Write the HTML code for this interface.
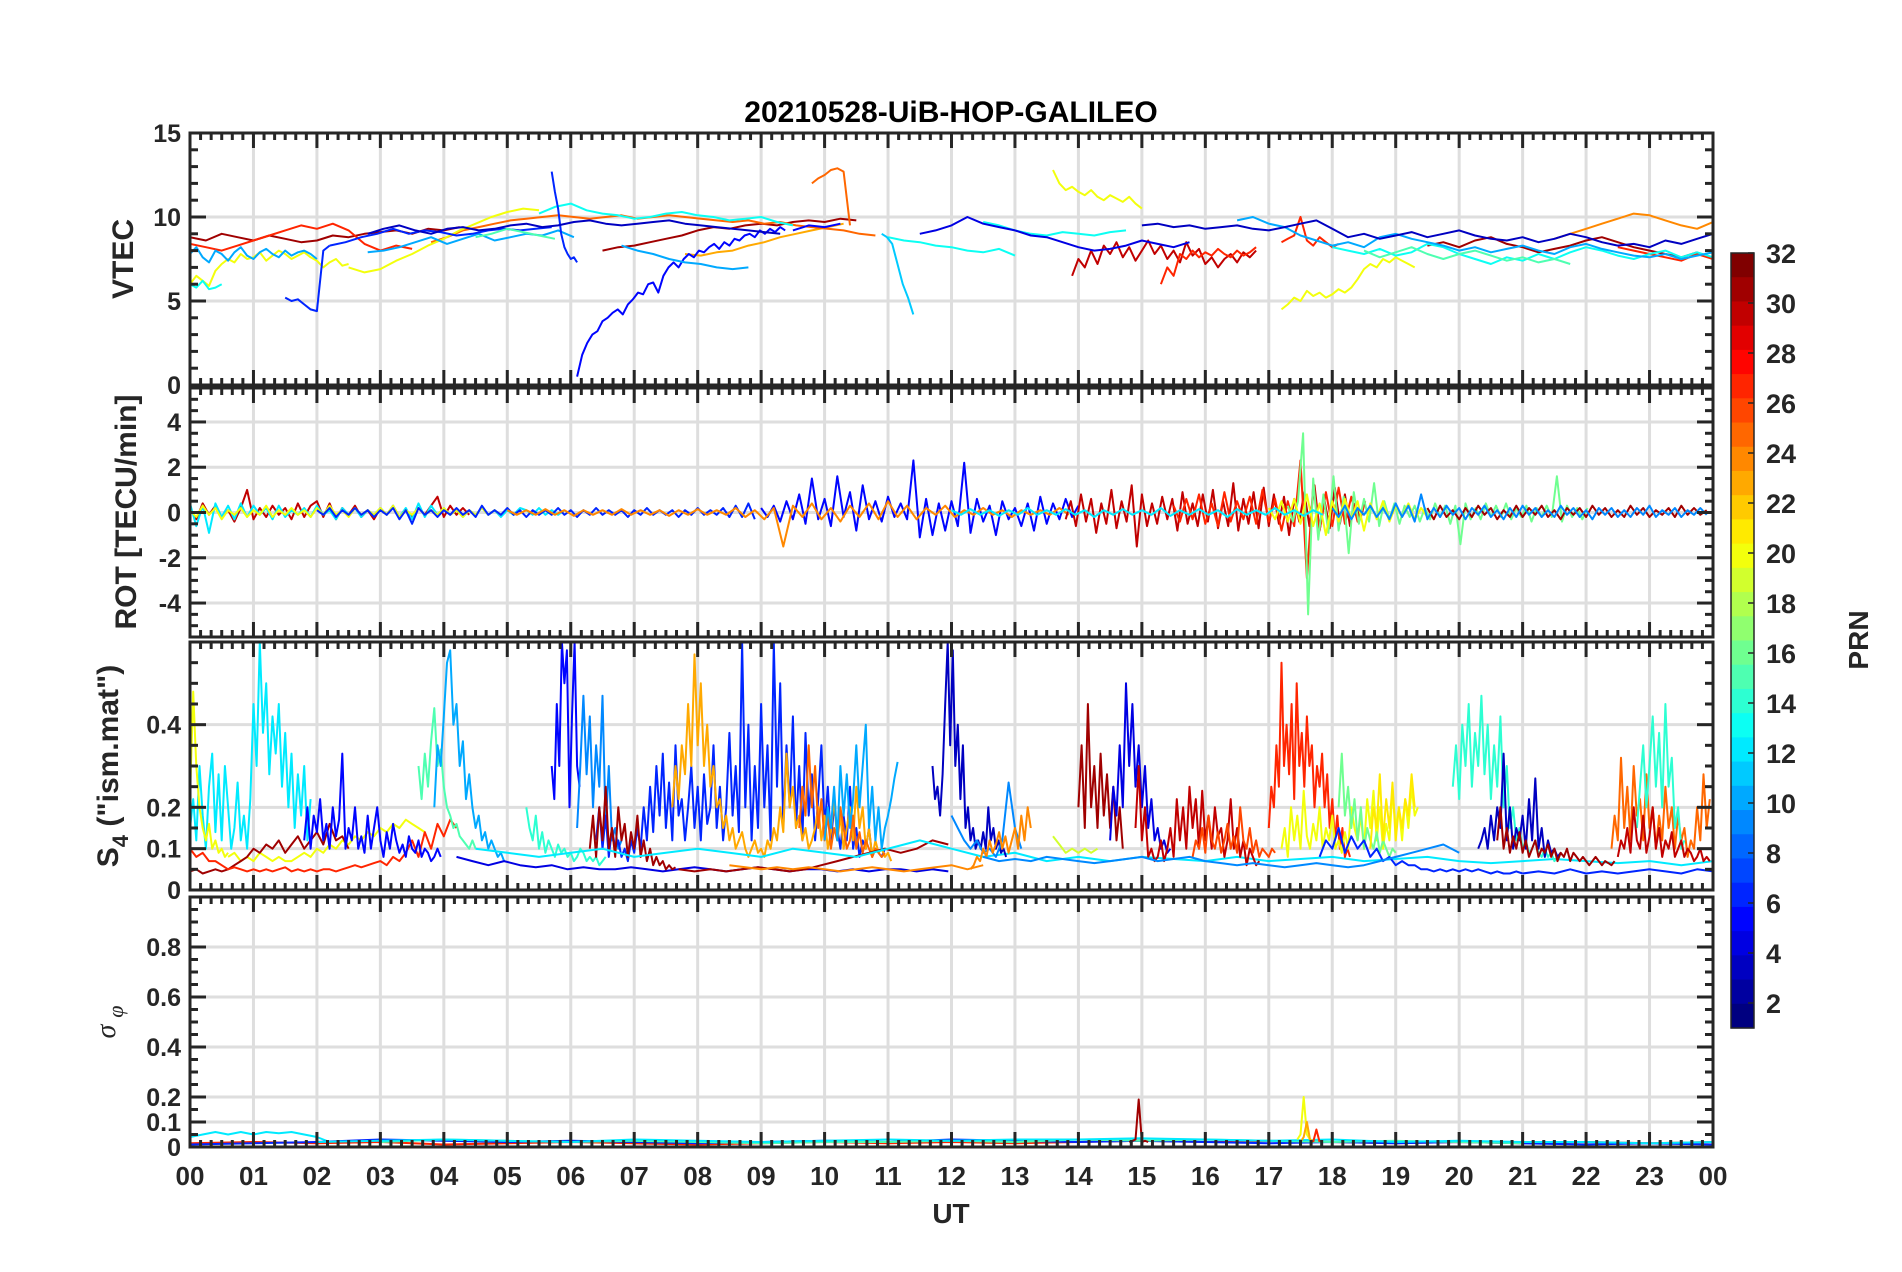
<!DOCTYPE html>
<html><head><meta charset="utf-8"><title>20210528-UiB-HOP-GALILEO</title>
<style>html,body{margin:0;padding:0;background:#fff}svg{display:block;font-family:"Liberation Sans",Arial,sans-serif}</style>
</head><body>
<svg id="chart" xmlns="http://www.w3.org/2000/svg" width="1902" height="1272" viewBox="0 0 1902 1272">
<rect x="0" y="0" width="1902" height="1272" fill="#fff"/>
<text x="951" y="122" text-anchor="middle" font-size="30" font-weight="bold" fill="#000">20210528-UiB-HOP-GALILEO</text>
<text transform="translate(133,259) rotate(-90)" text-anchor="middle" font-size="30" font-weight="bold" fill="#262626">VTEC</text>
<text transform="translate(136,512) rotate(-90)" text-anchor="middle" font-size="30" font-weight="bold" fill="#262626">ROT [TECU/min]</text>
<text transform="translate(118,766) rotate(-90)" text-anchor="middle" font-size="30" font-weight="bold" fill="#262626">S<tspan font-size="22" dy="10">4</tspan><tspan dy="-10"> ("ism.mat")</tspan></text>
<text transform="translate(115,1022) rotate(-90)" text-anchor="middle" font-size="28" font-style="italic" fill="#262626" font-family="'Liberation Serif',serif">σ <tspan font-size="22" dy="8">φ</tspan></text>
<text x="951" y="1223" text-anchor="middle" font-size="28" font-weight="bold" fill="#262626">UT</text>
<text transform="translate(1868,640) rotate(-90)" text-anchor="middle" font-size="28" font-weight="bold" fill="#262626">PRN</text>
<g id="layer"></g>
</svg>
<script>
// ---------- axis / tick data ----------
const hourLabels = ["00","01","02","03","04","05","06","07","08","09","10","11","12","13","14","15","16","17","18","19","20","21","22","23","00"];
const vtecTicks = [0,5,10,15];
const rotTicks = [-4,-2,0,2,4];
const s4Ticks = [0,0.1,0.2,0.4];
const s4TickLabels = ["0","0.1","0.2","0.4"];
const sigTicks = [0,0.1,0.2,0.4,0.6,0.8];
const sigTickLabels = ["0","0.1","0.2","0.4","0.6","0.8"];
const cbTicks = [2,4,6,8,10,12,14,16,18,20,22,24,26,28,30,32];

// ---------- VTEC data ----------
const vtecPrn = [31,31,30,31,27,27,27,27,24,23,25,25,20,20,20,20,13,13,13,13,13,10,10,10,11,6,6,6,5,5,4,3,3,10,15,15];
const vtecStart = [0,6.5,13.9,19.5,0,15.3,17.2,22.5,21.5,7.8,3.8,9.8,0,2.5,13.6,17.2,0,5.5,11,12.5,18,0,2.8,16.5,10.9,1.5,2.2,5.7,6.1,9.5,11.5,15,2.8,6.8,4.5,18.5];
const vtecStep = [0.25,0.25,0.1,0.25,0.25,0.1,0.1,0.25,0.25,0.25,0.25,0.1,0.1,0.25,0.1,0.1,0.1,0.25,0.25,0.25,0.25,0.1,0.25,0.25,0.083,0.1,0.25,0.05,0.08,0.25,0.25,0.25,0.25,0.25,0.25,0.25];
const vtecVals = [
[8.8,8.6,9.0,8.8,8.6,8.9,8.7,8.5,8.6,8.9,8.8,9.0,9.1,9.2,9.0,9.3,9.2,9.4],
[8.0,8.2,8.3,8.5,8.7,8.9,9.2,9.4,9.3,9.5,9.6,9.5,9.7,9.8,9.7,9.9,9.8],
[6.5,7.5,7.0,8.0,7.2,8.3,7.8,8.5,7.6,8.2,7.4,8.0,8.6,7.8,8.3,7.5,8.0,7.3,8.5,7.7,8.1,7.2,7.6,7.0,7.5,7.8,7.3,7.9,7.6,8.0],
[8.3,8.5,8.2,8.6,8.8,8.4,8.2,7.9,8.1,8.3,8.6,8.8,8.5,8.2,8.0,7.8,7.6,7.9],
[8.4,8.2,8.0,8.3,8.6,8.9,9.2,9.5,9.3,9.6,9.2,8.4,8.0,8.3,8.1],
[6.0,7.0,6.5,7.8,7.5,8.0,7.6,7.9,7.7,8.1,7.8,7.6,8.0,7.7,7.9,8.2],
[8.5,8.7,8.9,10.0,8.6,8.3,8.8,8.5,8.2,8.4],
[8.2,8.0,7.8,7.6,7.4,7.8,7.5],
[8.7,9.0,9.3,9.6,9.9,10.2,10.1,9.8,9.5,9.3,9.7],
[7.8,7.7,7.9,8.0,8.3,8.5,8.8,9.0,9.2,9.4,9.6],
[8.5,8.8,9.2,9.4,9.6,9.8,9.9,10.0,10.1,10.0,9.9,10.0,10.1,9.9,10.0,10.1,10.0,9.9,9.8,9.7,9.8,9.6,9.7,9.5,9.4,9.3,9.2,9.0,8.9],
[12.0,12.3,12.5,12.8,12.9,12.7,9.5],
[6.0,6.5,6.2,5.9,6.8,7.2,7.5,7.3,7.8,7.5,7.6,7.9,7.4,7.7,8.0,7.8,7.5,7.7,7.9,7.6,7.4,7.0,7.3,7.5,7.1,7.2],
[7.0,6.7,6.9,7.4,7.8,8.3,8.7,9.2,9.6,10.0,10.3,10.5,10.4],
[12.8,12.0,11.6,11.8,11.5,11.3,11.6,11.2,11.0,11.3,11.1,10.9,11.2,10.8,10.5],
[4.5,4.8,5.2,5.0,5.6,5.3,5.5,5.2,5.4,5.7,5.5,5.8,6.3,6.9,7.2,7.0,7.5,7.3,7.6,7.4,7.2,7.0],
[6.0,5.8,6.2,5.7,5.8,6.0],
[10.2,10.6,10.8,10.4,10.2,10.1,9.9,10.0,10.2,10.3,10.1,10.0,9.8,9.9,10.0,9.7,9.5],
[8.8,8.6,8.5,8.3,8.2,8.0,7.9,8.1,7.7],
[9.7,9.5,9.2,9.0,8.9,9.1,9.0,8.9,9.1,9.2],
[8.2,8.0,7.8,8.1,7.7,7.9,8.4,8.2,7.8,7.5,7.2,7.6,7.4,7.8,7.5,7.9,8.2,8.0,7.7,7.5,7.8,8.0,7.6,7.9,7.6],
[7.8,8.2,7.6,7.3,8.0,7.8,7.4,7.9,8.2,7.7,7.5,7.9,8.1,7.8,7.6,8.0,7.7,7.9,8.0,7.8,7.5],
[7.9,8.0,8.2,8.5,8.8,8.4,8.7,9.0,8.6,8.8,9.0,8.9,9.2,8.8],
[9.8,10.0,9.6,9.4,8.9,8.6,8.3,8.5,8.2,8.8,9.0,8.7,8.5,8.3,8.0,8.2,7.9,8.1,8.3,8.0,7.8,8.2,8.4,8.1,7.9,7.7,7.6,7.8,7.5,7.7,7.9],
[9.0,8.8,8.4,7.2,6.0,5.2,4.2],
[5.2,5.0,5.1,4.8,4.5,4.4,8.0,8.3],
[8.3,8.5,8.8,9.0,9.3,9.0,9.2,9.1,8.9,9.0,9.2,9.3,9.2,9.3,9.4],
[12.7,11.5,10.5,9.0,8.2,7.8,7.5,7.6,7.3],
[0.5,1.8,2.5,3.0,3.2,3.8,4.0,4.3,4.5,4.2,4.8,5.1,5.5,5.4,6.0,6.1,5.5,6.5,7.0,7.3,7.0,7.5,7.8,7.6,8.0,7.9,8.2,8.4,8.1,8.5,8.3,8.7,8.6,8.9,9.0,8.8,9.2,9.0,9.3,9.1,9.4,9.2],
[9.2,9.5,9.4,9.6],
[9.0,9.2,9.5,10.0,9.6,9.4,9.2,8.9,8.8,8.5,8.2,8.0,8.1,8.3,8.6,8.4,8.2,8.5],
[9.5,9.6,9.4,9.5,9.3,9.4,9.5,9.3,9.2,9.4,9.6,9.8,9.3,8.8,9.0,8.7,8.9,9.1,8.8,9.0,9.2,8.9,8.7,8.6,8.8,8.5,8.7,9.0,8.8,8.5,8.3,8.4,8.2,8.6,8.4,8.7,9.0],
[9.0,9.3,9.5,9.2,9.0,9.3,9.4,9.2,9.3,9.5,9.6,9.4,9.5,9.7,9.8,9.6,9.5,9.6,9.7,9.8,9.6,9.5,9.4,9.3,9.2,9.1,9.0],
[8.3,8.0,7.8,7.5,7.3,7.2,7.0,6.9,7.0],
[8.8,9.0,9.3,9.1,8.9,8.7],
[8.0,7.6,7.9,8.2,7.8,7.5,7.8,8.0,7.7,7.4,7.6,7.3,7.5,7.2]
];

// ---------- ROT data ----------
const rotPrn = [30,12,20,6,5,24,30,27,16,20,31,9,12];
const rotStart = [0,0,0,2,9,5,13.8,15.5,17.3,17,19.5,18,12];
const rotStep = [0.1,0.1,0.1,0.1,0.1,0.15,0.08,0.1,0.08,0.1,0.1,0.1,0.15];
const rotVals = [
[0.2,-0.3,0.4,-0.1,0.3,-0.2,0.1,-0.4,0.2,1.0,-0.3,0.2,-0.2,0.3,-0.1,0.2,-0.3,0.4,-0.2,0.3,0.5,-0.2,0.4,-0.3,0.2,-0.1,0.3,-0.2,0.1,-0.3,0.2,-0.1,0.3,-0.2,0.1,-0.2,0.2,-0.1,0.3,0.7,-0.2,0.3,-0.1,0.2,-0.1],
[0.4,-0.6,0.3,-0.9,0.4,-0.2,0.3,-0.3,0.4,-0.2,0.3,-0.1,0.2,-0.3,0.3,-0.2,0.1,-0.1,0.2,-0.2,0.3,-0.1,0.1,-0.3,0.2,-0.1,0.2,-0.2,0.1,-0.1,0.2,-0.1,0.3,-0.2,0.2,-0.3,0.4,-0.2,0.3,-0.1,0.2,-0.1,0.1,-0.2,0.1,-0.1,0.2,-0.1,0.1,-0.2,0.1,-0.1,0.2,0.1,-0.1,0.2,-0.1,0.1,-0.1,0.1],
[0.1,-0.2,0.3,-0.1,0.2,-0.3,0.1,-0.1,0.2,-0.2,0.1,-0.1,0.3,-0.2,0.1,-0.1,0.2,-0.1,0.1,-0.2,0.2,-0.1,0.3,-0.1,0.1,-0.2,0.2,-0.1,0.1,-0.1,0.2,-0.1,0.3,-0.2,0.1,-0.1,0.2,-0.1,0.1,-0.1,0.2,-0.1,0.1,-0.2,0.1,-0.1,0.2,-0.1,0.1,-0.1],
[0.1,-0.1,0.2,-0.2,0.1,-0.1,0.2,-0.1,0.1,-0.2,0.1,-0.1,0.2,-0.3,0.1,-0.5,0.2,-0.1,0.1,-0.2,0.1,-0.1,0.2,-0.1,0.1,-0.2,0.3,-0.1,0.1,-0.1,0.2,-0.1,0.1,-0.2,0.1,-0.1,0.1,-0.1,0.2,-0.1,0.1,-0.2,0.1,-0.1,0.2,-0.1,0.1,-0.1,0.1,-0.2,0.1,-0.1,0.2,-0.1,0.1,-0.1,0.1,-0.2,0.1,-0.1,0.2,-0.1,0.1,-0.1,0.2,-0.2,0.3,-0.2,0.4,-0.3],
[0.2,-0.2,0.3,-0.4,0.5,-0.3,0.8,-0.5,1.5,-0.3,0.6,-0.6,1.6,-0.2,0.9,-0.8,1.2,-0.3,0.5,-0.4,0.7,-0.2,0.4,-0.3,2.3,-1.1,0.6,-1.0,0.4,-0.8,0.5,-0.6,2.2,-0.9,0.6,-0.4,0.3,-1.0,0.5,-0.3,0.2,-0.6,0.4,-0.8,0.7,-0.5,0.4,-0.3,0.6,-0.2,0.3],
[0.1,-0.1,0.1,-0.1,0.15,-0.1,0.1,-0.15,0.1,-0.1,0.1,-0.1,0.15,-0.1,0.1,-0.1,0.1,-0.15,0.1,-0.1,0.15,-0.1,0.1,-0.1,0.2,-0.2,0.1,-0.3,0.2,-1.5,0.3,-0.2,0.4,-0.3,0.2,-0.4,0.3,-0.2,0.4,-0.3,0.5,-0.2,0.3,-0.3,0.2,-0.1,0.3,-0.2,0.1,-0.1,0.2,-0.1,0.1,-0.2,0.1,-0.1,0.1,-0.1,0.2,-0.1],
[-0.3,0.5,-0.6,0.8,-0.4,0.6,-0.9,0.4,-0.5,1.0,-0.7,0.5,-0.4,1.2,-1.5,0.8,-0.6,0.4,-0.5,0.7,-0.3,0.6,-0.8,0.9,-0.5,0.4,-0.6,0.8,-0.4,1.0,-0.7,0.5,-0.6,1.3,-0.8,0.6,-0.5,0.9,-0.7,1.1,-0.6,0.8,-0.5,0.7,-1.0,0.6,-0.4,0.9,-0.6,1.2,-0.8,0.5,-0.7,1.1,-0.5,0.8,-0.6,0.4,-0.3,0.5],
[0.3,-0.4,0.6,-0.3,0.8,-0.5,0.4,-0.6,0.9,-0.4,0.5,-0.3,0.7,-0.5,1.0,-0.4,0.6,-0.8,0.5,-0.6,2.3,-2.9,1.2,-0.8,0.9,-0.6,1.1,-0.5,0.7,-0.4,0.3],
[0.3,-0.4,0.5,3.5,-4.5,1.5,-1.2,0.8,-0.9,1.6,-0.8,0.7,-1.8,0.9,-0.5,0.6,-0.4,1.3,-0.6,0.5,-0.3,0.4,-0.5,0.3,-0.2,0.3,-0.4,0.2,-0.3,0.4,-0.2,0.3,-0.5,0.3,-1.4,0.4,-0.3,0.2,-0.3,0.4,-0.2,0.3,-0.2,0.4,-0.3,0.2,-0.2,0.3,-0.4,0.2,-0.2,0.3,-0.2,1.6,-0.4,0.3,-0.2,0.2,-0.3,0.2],
[0.2,-0.3,0.5,-0.4,0.6,-0.5,0.8,-0.6,0.4,-1.0,0.5,-0.4,0.6,-0.3,0.5,-0.8,0.4,-0.3,0.5,-0.4,0.3,-0.2,0.4,-0.3,0.2,-0.2],
[0.2,-0.3,0.3,-0.2,0.1,-0.3,0.2,-0.2,0.3,-0.1,0.2,-0.3,0.1,-0.2,0.3,-0.2,0.2,-0.1,0.3,-0.2,0.1,-0.3,0.2,-0.1,0.2,-0.2,0.3,-0.1,0.2,-0.2,0.1,-0.2,0.3,-0.1,0.2,-0.2,0.1,-0.1,0.2,-0.2,0.3,-0.1,0.2,-0.1,0.1],
[0.2,-0.2,0.3,-0.3,0.2,-0.1,0.3,-0.2,0.2,-0.3,0.4,-0.2,0.3,-0.4,0.8,-0.3,0.2,-0.2,0.3,-0.1,0.2,-0.3,0.2,-0.1,0.3,-0.2,0.1,-0.3,0.2,-0.2,0.3,-0.1,0.2,-0.2,0.1,-0.2,0.3,-0.1,0.2,-0.2,0.1,-0.3,0.2,-0.1,0.2,-0.2,0.1,-0.2,0.2,-0.1,0.3,-0.2,0.1,-0.1,0.2,-0.2,0.1,-0.1,0.2,-0.1],
[0.1,-0.1,0.15,-0.1,0.1,-0.15,0.1,-0.1,0.2,-0.1,0.1,-0.1,0.15,-0.1,0.1,-0.2,0.1,-0.1,0.15,-0.1,0.1,-0.1,0.2,-0.15,0.1,-0.1,0.15,-0.1,0.1,-0.2,0.15,-0.1,0.1,-0.1,0.2,-0.1,0.1,-0.15,0.1,-0.1]
];

// ---------- S4 data ----------
const s4Prn = [12,20,20,31,27,5,15,10,14,4,5,9,6,23,25,31,31,10,12,24,3,9,24,19,31,4,30,26,27,20,16,21,6,6,14,3,31,25,14,30,9];
const s4Start = [0,0,0.6,0,0,1.8,3.6,3.85,5.3,4.2,5.7,6.1,6.4,7.6,9.6,6.3,7.7,10,4.5,8.5,11.7,12,12.3,13.6,14,14.5,14.9,15.8,17,17.2,18.1,18.6,17.8,21,19.9,20.3,20.6,22.4,22.8,22.5,12.5];
const s4Step = [0.05,0.05,0.1,0.1,0.1,0.05,0.05,0.05,0.05,0.25,0.04,0.05,0.05,0.05,0.05,0.05,0.25,0.05,0.5,0.25,0.04,0.1,0.05,0.1,0.05,0.05,0.05,0.05,0.04,0.05,0.05,0.05,0.1,0.25,0.05,0.05,0.05,0.05,0.05,0.05,0.25];
const s4Vals = [
[0.15,0.22,0.12,0.3,0.18,0.1,0.25,0.33,0.14,0.28,0.12,0.3,0.2,0.1,0.15,0.26,0.12,0.18,0.1,0.22,0.45,0.3,0.6,0.38,0.5,0.28,0.42,0.33,0.45,0.25,0.38,0.2,0.33,0.15,0.28,0.18,0.3,0.12,0.22],
[0.22,0.48,0.3,0.2,0.15,0.12,0.16,0.1,0.12,0.09,0.1,0.08,0.09],
[0.08,0.09,0.07,0.08,0.07,0.09,0.08,0.07,0.08,0.07,0.07,0.08,0.09,0.08,0.1,0.09,0.11,0.1,0.12,0.11,0.13,0.12,0.14,0.13,0.15,0.14,0.16,0.15,0.17,0.16,0.15,0.14],
[0.045,0.05,0.04,0.045,0.05,0.045,0.05,0.06,0.07,0.08,0.1,0.09,0.11,0.1,0.12,0.09,0.11,0.13,0.1,0.12,0.14,0.11,0.16,0.12,0.13,0.1],
[0.1,0.08,0.09,0.07,0.07,0.06,0.05,0.055,0.05,0.045,0.05,0.045,0.05,0.045,0.05,0.055,0.045,0.05,0.045,0.05,0.045,0.05,0.05,0.045,0.05,0.055,0.06,0.055,0.06,0.065,0.07,0.06,0.08,0.07,0.09,0.12,0.08,0.14,0.1,0.16,0.13,0.17,0.15],
[0.12,0.2,0.1,0.18,0.14,0.22,0.12,0.16,0.1,0.2,0.13,0.17,0.33,0.1,0.15,0.12,0.2,0.1,0.13,0.09,0.18,0.1,0.15,0.2,0.12,0.08,0.14,0.1,0.16,0.12,0.09,0.11,0.08,0.13,0.1,0.09,0.12,0.08,0.1,0.09,0.07,0.08,0.1,0.08],
[0.3,0.22,0.33,0.25,0.36,0.44,0.3,0.34,0.25,0.2,0.18,0.15,0.16,0.13,0.12,0.11,0.1,0.12,0.1],
[0.2,0.35,0.3,0.42,0.55,0.58,0.4,0.45,0.3,0.36,0.22,0.28,0.2,0.15,0.18,0.12,0.14,0.1,0.12,0.1,0.08,0.09,0.07],
[0.2,0.15,0.12,0.18,0.1,0.14,0.09,0.12,0.1,0.08,0.11,0.09,0.1,0.08,0.09,0.07,0.08,0.1,0.09,0.07,0.08,0.07,0.08,0.06,0.07,0.08],
[0.08,0.07,0.06,0.07,0.06,0.055,0.06,0.05,0.055,0.05,0.05,0.055,0.05,0.045,0.05,0.055,0.05,0.045,0.05,0.055,0.05,0.045,0.05,0.05,0.045,0.05,0.045,0.05,0.05,0.045,0.05,0.045],
[0.3,0.22,0.45,0.3,0.6,0.5,0.58,0.2,0.42,0.6,0.3,0.25],
[0.15,0.3,0.47,0.28,0.42,0.2,0.35,0.25,0.47,0.15,0.3,0.12,0.15,0.1,0.12],
[0.12,0.2,0.1,0.18,0.08,0.15,0.1,0.12,0.08,0.1,0.07,0.12,0.09,0.15,0.1,0.2,0.12,0.25,0.14,0.3,0.18,0.33,0.15,0.26,0.12,0.35,0.18,0.22,0.12,0.2,0.3,0.15,0.25,0.12,0.28,0.16,0.2,0.35,0.15,0.25,0.12,0.2,0.38,0.18,0.3,0.14,0.6,0.2,0.4,0.12,0.3,0.15,0.45,0.2,0.35,0.12,0.6,0.25,0.5,0.15,0.35,0.2,0.42,0.15,0.3,0.12,0.38,0.18,0.28,0.12,0.22,0.35,0.15,0.25,0.12,0.2,0.15,0.1,0.18,0.12,0.25,0.1,0.15,0.08,0.12,0.1,0.15,0.08,0.1,0.09,0.08,0.1],
[0.2,0.3,0.22,0.35,0.28,0.45,0.3,0.57,0.35,0.5,0.3,0.4,0.25,0.3,0.2,0.22,0.15,0.18,0.12,0.15,0.1,0.12,0.14,0.1,0.08,0.1,0.12,0.09,0.1,0.08,0.12,0.1,0.15,0.12,0.2,0.14,0.33,0.2,0.25,0.15,0.18,0.12,0.15,0.1,0.12,0.15,0.2,0.12,0.18,0.1,0.14,0.22,0.12,0.18,0.1,0.15,0.2,0.12,0.25,0.15,0.2,0.1,0.15,0.08,0.12,0.09,0.1,0.08,0.09,0.07],
[0.15,0.25,0.18,0.35,0.2,0.3,0.15,0.22,0.12,0.18,0.1,0.15,0.12,0.2,0.15,0.1,0.12,0.18,0.1,0.14,0.09,0.12,0.1,0.08,0.1,0.09,0.08,0.09],
[0.1,0.18,0.08,0.2,0.12,0.25,0.1,0.15,0.08,0.2,0.12,0.16,0.08,0.14,0.1,0.18,0.08,0.12,0.07,0.1,0.06,0.08,0.06,0.07,0.05,0.06,0.05,0.055],
[0.05,0.045,0.05,0.045,0.05,0.055,0.05,0.045,0.05,0.06,0.07,0.08,0.09,0.1,0.09,0.1,0.12,0.11],
[0.12,0.2,0.15,0.25,0.12,0.3,0.18,0.28,0.15,0.22,0.35,0.2,0.3,0.4,0.15,0.25,0.12,0.2,0.1,0.15,0.18,0.22,0.27,0.31],
[0.1,0.09,0.08,0.09,0.1,0.08,0.09,0.1,0.09,0.08,0.1,0.09,0.08,0.1,0.12,0.1,0.08,0.09,0.07,0.08,0.07,0.08,0.075,0.07,0.08,0.07,0.075,0.08,0.07,0.075,0.08,0.07,0.065,0.07,0.075,0.07,0.065,0.07,0.06,0.07],
[0.06,0.055,0.05,0.055,0.05,0.055,0.05,0.045,0.05,0.055,0.05,0.045,0.05,0.055,0.06,0.05,0.06],
[0.3,0.22,0.25,0.18,0.28,0.45,0.6,0.35,0.58,0.3,0.4,0.22,0.35,0.15,0.2,0.12,0.15,0.1,0.12,0.1,0.14,0.1,0.2,0.12,0.15,0.1,0.12,0.09,0.1,0.08],
[0.18,0.15,0.12,0.1,0.12,0.09,0.1,0.08,0.12,0.26,0.15,0.1],
[0.05,0.06,0.08,0.07,0.1,0.08,0.12,0.09,0.11,0.14,0.1,0.13,0.09,0.12,0.15,0.1,0.18,0.12,0.2,0.15],
[0.13,0.11,0.09,0.1,0.09,0.1,0.09,0.1],
[0.2,0.35,0.15,0.45,0.2,0.3,0.15,0.33,0.18,0.28,0.15,0.25,0.12,0.2,0.1],
[0.12,0.25,0.18,0.35,0.2,0.5,0.3,0.45,0.25,0.35,0.2,0.3,0.15,0.22,0.12,0.15,0.1,0.12,0.09,0.1],
[0.15,0.3,0.12,0.2,0.08,0.1,0.07,0.08,0.12,0.07,0.1,0.15,0.08,0.22,0.12,0.2,0.1,0.25,0.15,0.22,0.1,0.24,0.12,0.18,0.1,0.2,0.13,0.15,0.08,0.12,0.22,0.1,0.15,0.08,0.12,0.06,0.1,0.08,0.06,0.07],
[0.08,0.12,0.1,0.15,0.09,0.18,0.12,0.1,0.14,0.09,0.12,0.16,0.1,0.13,0.09,0.2,0.12,0.1,0.15,0.09,0.12,0.08,0.1,0.09,0.08,0.1,0.09],
[0.15,0.25,0.2,0.35,0.25,0.55,0.3,0.4,0.28,0.45,0.22,0.5,0.3,0.38,0.25,0.42,0.3,0.35,0.2,0.3,0.25,0.33,0.2,0.28,0.15,0.22,0.12,0.18,0.1,0.15,0.08,0.1,0.08],
[0.1,0.15,0.08,0.2,0.12,0.18,0.1,0.24,0.13,0.1,0.16,0.12,0.2,0.1,0.15,0.12,0.18,0.1,0.12,0.09,0.14,0.1,0.2,0.15,0.12,0.18,0.1,0.22,0.15,0.24,0.12,0.2,0.1,0.16,0.12,0.24,0.15,0.2,0.12,0.22,0.15,0.25,0.18,0.2],
[0.2,0.33,0.18,0.25,0.15,0.22,0.12,0.2,0.1,0.15,0.12,0.1,0.14,0.09,0.12,0.1,0.08,0.1,0.09],
[0.1,0.2,0.15,0.28,0.12,0.22,0.15,0.26,0.12,0.2,0.15,0.22,0.18,0.28,0.2],
[0.08,0.12,0.1,0.15,0.09,0.13,0.1,0.12,0.08,0.1,0.07,0.08,0.06,0.07,0.06,0.06,0.05,0.05,0.045,0.05,0.045,0.05,0.045,0.05,0.045,0.05,0.045,0.04,0.045,0.04,0.04,0.045,0.04],
[0.04,0.045,0.04,0.05,0.04,0.045,0.04,0.045,0.05,0.045,0.04,0.05,0.045],
[0.25,0.35,0.22,0.4,0.3,0.45,0.25,0.38,0.3,0.47,0.28,0.4,0.22,0.35,0.25,0.42,0.2,0.3,0.15,0.2,0.12,0.15,0.1,0.12,0.09,0.1,0.12,0.09,0.08,0.1,0.08,0.09,0.07,0.08],
[0.1,0.12,0.15,0.1,0.18,0.12,0.2,0.15,0.33,0.12,0.2,0.1,0.15,0.12,0.18,0.1,0.22,0.12,0.27,0.1,0.15,0.08,0.12,0.09,0.1,0.08,0.09],
[0.12,0.2,0.1,0.15,0.09,0.13,0.1,0.14,0.09,0.12,0.08,0.1,0.12,0.08,0.1,0.09,0.11,0.08,0.1,0.07,0.09,0.08,0.1,0.07,0.09,0.08,0.07,0.08,0.07,0.06,0.07,0.08,0.07,0.06,0.07,0.065,0.06,0.07],
[0.1,0.18,0.12,0.32,0.15,0.25,0.12,0.3,0.18,0.22,0.12,0.28,0.15,0.2,0.1,0.18,0.12,0.25,0.15,0.2,0.1,0.18,0.12,0.15,0.08,0.12,0.1,0.2,0.12,0.28,0.15,0.22],
[0.15,0.25,0.35,0.2,0.3,0.42,0.25,0.38,0.2,0.45,0.25,0.32,0.15,0.2,0.1,0.12],
[0.08,0.12,0.1,0.15,0.09,0.2,0.12,0.1,0.18,0.09,0.13,0.2,0.1,0.15,0.08,0.12,0.1,0.14,0.08,0.1,0.12,0.08,0.1,0.09,0.07,0.08,0.1,0.07,0.08,0.07],
[0.08,0.07,0.075,0.07,0.08,0.075,0.07,0.065,0.07,0.075,0.08,0.07,0.075,0.08,0.07,0.065,0.06,0.065,0.06,0.055,0.06,0.065,0.06,0.055,0.06,0.07,0.08,0.09,0.1,0.11,0.09]
];

// ---------- sigma-phi data ----------
const sigPrn = [12,27,6,15,12,31,20,23,27];
const sigStart = [0,0,0,3,2,14.8,17.45,17.5,17.7];
const sigStep = [0.2,1,1,1,1,0.05,0.05,0.05,0.05];
const sigVals = [
[0.04,0.05,0.06,0.05,0.06,0.05,0.06,0.055,0.06,0.05,0.04,0.02],
[0.015,0.02,0.015,0.02,0.01,0.015,0.02,0.015,0.01,0.015,0.02,0.015,0.02,0.015,0.02,0.025,0.02,0.025,0.02,0.015,0.02,0.015,0.02,0.015,0.02],
[0.01,0.015,0.02,0.03,0.025,0.02,0.025,0.02,0.015,0.02,0.025,0.02,0.03,0.025,0.02,0.025,0.02,0.015,0.02,0.015,0.02,0.015,0.01,0.015,0.01],
[0.02,0.03,0.025,0.02,0.025,0.02,0.015,0.02,0.02,0.025,0.02,0.03,0.025,0.03,0.025,0.02,0.025,0.02,0.015],
[0.02,0.025,0.03,0.025,0.02,0.03,0.025,0.02,0.025,0.03,0.025,0.03,0.03,0.035,0.03,0.025,0.03,0.02,0.025,0.02,0.02,0.015,0.02],
[0.02,0.025,0.03,0.19,0.02,0.025,0.02],
[0.03,0.05,0.2,0.05,0.03,0.025],
[0.02,0.04,0.1,0.03,0.02],
[0.02,0.07,0.02]
];

// ---------- rendering ----------
const NS = "http://www.w3.org/2000/svg";
const layer = document.getElementById("layer");
const X0 = 190, X1 = 1713;
const AX = "#262626";
function xs(t){ return X0 + (X1 - X0) * t / 24; }
function mk(tag, attrs, parent){
  const e = document.createElementNS(NS, tag);
  for (const k in attrs) e.setAttribute(k, attrs[k]);
  (parent || layer).appendChild(e);
  return e;
}
function jet(p){
  const idx = Math.max(0, Math.min(31, Math.round(p) - 1));
  const x = idx / 31;
  const c = v => Math.round(255 * Math.max(0, Math.min(1, v)));
  return "rgb(" + c(1.5 - Math.abs(4*x - 3)) + "," + c(1.5 - Math.abs(4*x - 2)) + "," + c(1.5 - Math.abs(4*x - 1)) + ")";
}

const panels = [
  {key:"vtec", top:133, bot:385, min:0, max:15, ticks:vtecTicks, labels:vtecTicks.map(String), minor:1, prn:vtecPrn, start:vtecStart, step:vtecStep, vals:vtecVals},
  {key:"rot", top:388, bot:637, min:-5.5, max:5.5, ticks:rotTicks, labels:rotTicks.map(String), minor:0.5, prn:rotPrn, start:rotStart, step:rotStep, vals:rotVals},
  {key:"s4", top:642, bot:890, min:0, max:0.6, ticks:s4Ticks, labels:s4TickLabels, minor:0.05, prn:s4Prn, start:s4Start, step:s4Step, vals:s4Vals},
  {key:"sigma-phi", top:897, bot:1147, min:0, max:1, ticks:sigTicks, labels:sigTickLabels, minor:0.05, prn:sigPrn, start:sigStart, step:sigStep, vals:sigVals}
];

panels.forEach((P, pi) => {
  const ys = v => P.bot - (v - P.min) / (P.max - P.min) * (P.bot - P.top);
  const g = mk("g", {});
  
  
  for (let h = 1; h < 24; h++) {
    const l = mk("line", {x1:xs(h), x2:xs(h), y1:P.top, y2:P.bot, stroke:"#dedede", "stroke-width":3}, g);
    
    
  }
  P.ticks.forEach(v => {
    if (v <= P.min || v >= P.max) return;
    const l = mk("line", {x1:X0, x2:X1, y1:ys(v), y2:ys(v), stroke:"#dedede", "stroke-width":3}, g);
    
    
  });
  const cp = mk("clipPath", {id:"clip" + pi}, g);
  mk("rect", {x:X0, y:P.top, width:X1 - X0, height:P.bot - P.top}, cp);
  const sg = mk("g", {"clip-path":"url(#clip" + pi + ")"}, g);
  
  
  P.vals.forEach((arr, si) => {
    const pts = arr.map((v, i) => xs(P.start[si] + i * P.step[si]).toFixed(1) + "," + ys(v).toFixed(1)).join(" ");
    const pl = mk("polyline", {points:pts, fill:"none", stroke:jet(P.prn[si]), "stroke-width":2, "stroke-linejoin":"round"}, sg);
    
    
  });
  for (let m = 0; m <= 144; m++) {
    const x = xs(m / 6);
    const len = (m % 6 === 0) ? 15 : 7;
    const a = mk("line", {x1:x, x2:x, y1:P.top, y2:P.top + len, stroke:AX, "stroke-width":3}, g);
    
    
    const b = mk("line", {x1:x, x2:x, y1:P.bot, y2:P.bot - len, stroke:AX, "stroke-width":3}, g);
    
    
  }
  const nMin = Math.round((P.max - P.min) / P.minor);
  for (let k = 0; k <= nMin; k++) {
    const v = P.min + k * P.minor;
    const y = ys(v);
    const major = P.ticks.some(t => Math.abs(t - v) < 1e-6);
    const len = major ? 16 : 8;
    const a = mk("line", {x1:X0, x2:X0 + len, y1:y, y2:y, stroke:AX, "stroke-width":3}, g);
    
    
    const b = mk("line", {x1:X1, x2:X1 - len, y1:y, y2:y, stroke:AX, "stroke-width":3}, g);
    
    
  }
  P.ticks.forEach((v, i) => {
    const t = mk("text", {x:181, y:ys(v) + 9, "text-anchor":"end", "font-size":25, "font-weight":"bold", fill:AX}, g);
    t.textContent = P.labels[i];
    
    
  });
  const box = mk("rect", {x:X0, y:P.top, width:X1 - X0, height:P.bot - P.top, fill:"none", stroke:AX, "stroke-width":3}, g);
  
  
});

hourLabels.forEach((lab, h) => {
  const t = mk("text", {x:xs(h), y:1185, "text-anchor":"middle", "font-size":26, "font-weight":"bold", fill:AX});
  t.textContent = lab;
  
  
});

const CB = {x:1731, w:23, top:253, bot:1028};
const cbY = p => CB.top + (32 - p) / 31 * (CB.bot - CB.top);
const cbg = mk("g", {});


const bh = (CB.bot - CB.top) / 32;
for (let i = 0; i < 32; i++) {
  const r = mk("rect", {x:CB.x, y:CB.top + i * bh, width:CB.w, height:bh + 0.6, fill:jet(32 - i)}, cbg);
  
  
}
const cbBox = mk("rect", {x:CB.x, y:CB.top, width:CB.w, height:CB.bot - CB.top, fill:"none", stroke:AX, "stroke-width":1.5}, cbg);


cbTicks.forEach(p => {
  const y = cbY(p);
  const l = mk("line", {x1:CB.x + CB.w, x2:CB.x + CB.w - 6, y1:y, y2:y, stroke:AX, "stroke-width":1.5}, cbg);
  
  
  const t = mk("text", {x:1766, y:y + 10, "font-size":27, "font-weight":"bold", fill:AX}, cbg);
  t.textContent = String(p);
  
  
});
</script>
</body></html>
